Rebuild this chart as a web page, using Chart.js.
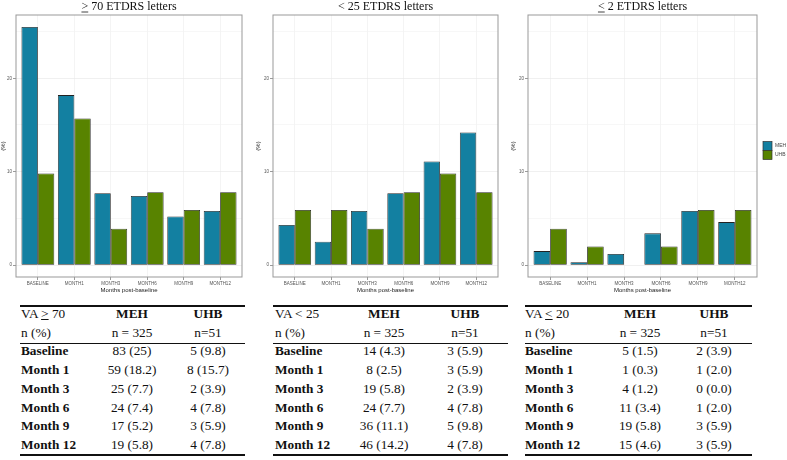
<!DOCTYPE html>
<html>
<head>
<meta charset="utf-8">
<script src="https://cdn.jsdelivr.net/npm/chart.js@4"></script>
<style>
  body { margin: 0; background: #fff; width: 787px; height: 460px; position: relative; overflow: hidden; font-family: "Liberation Serif", "Times New Roman", serif; }
  canvas { position: absolute; top: 0; }
  .t { position: absolute; height: 18px; line-height: 18px; font-size: 13.3px; color: #111; white-space: nowrap; }
  .c { width: 120px; text-align: center; }
  .b { font-weight: bold; }
  .ln { position: absolute; background: #111; }
</style>
</head>
<body>
<canvas id="c70" width="255" height="295" style="left:0px"></canvas>
<canvas id="c25" width="255" height="295" style="left:255px"></canvas>
<canvas id="c2" width="277" height="295" style="left:510px"></canvas>
<div id="tables"></div>
<script>
// categories
const months = ['BASELINE', 'MONTH1', 'MONTH3', 'MONTH6', 'MONTH9', 'MONTH12'];
const rowLabels = ['Baseline', 'Month 1', 'Month 3', 'Month 6', 'Month 9', 'Month 12'];
const yTicks = [0, 5, 10, 15, 20, 25];

// bar heights (%)
const meh70 = [25.5, 18.2, 7.7, 7.4, 5.2, 5.8];
const uhb70 = [9.8, 15.7, 3.9, 7.8, 5.9, 7.8];
const meh25 = [4.3, 2.5, 5.8, 7.7, 11.1, 14.2];
const uhb25 = [5.9, 5.9, 3.9, 7.8, 9.8, 7.8];
const meh2 = [1.5, 0.3, 1.2, 3.4, 5.8, 4.6];
const uhb2 = [3.9, 2.0, 0.0, 2.0, 5.9, 5.9];

// table cells
const mehText70 = ['83 (25)', '59 (18.2)', '25 (7.7)', '24 (7.4)', '17 (5.2)', '19 (5.8)'];
const uhbText70 = ['5 (9.8)', '8 (15.7)', '2 (3.9)', '4 (7.8)', '3 (5.9)', '4 (7.8)'];
const mehText25 = ['14 (4.3)', '8 (2.5)', '19 (5.8)', '24 (7.7)', '36 (11.1)', '46 (14.2)'];
const uhbText25 = ['3 (5.9)', '3 (5.9)', '2 (3.9)', '4 (7.8)', '5 (9.8)', '4 (7.8)'];
const mehText20 = ['5 (1.5)', '1 (0.3)', '4 (1.2)', '11 (3.4)', '19 (5.8)', '15 (4.6)'];
const uhbText20 = ['2 (3.9)', '1 (2.0)', '0 (0.0)', '1 (2.0)', '3 (5.9)', '3 (5.9)'];

const MEH_COL = '#1380A1';
const UHB_COL = '#588300';

// panel title, frame and legend drawn on top of the chart
const panelDeco = {
  id: 'panelDeco',
  afterDraw(chart, args, opts) {
    const ctx = chart.ctx;
    const a = chart.chartArea;
    ctx.save();
    ctx.strokeStyle = '#999';
    ctx.lineWidth = 1;
    ctx.strokeRect(a.left, a.top, a.right - a.left, a.bottom - a.top);

    // title with underlined comparison sign
    ctx.font = '12px "Liberation Serif"';
    ctx.fillStyle = '#111';
    ctx.textBaseline = 'alphabetic';
    ctx.textAlign = 'left';
    const full = opts.sym + ' ' + opts.title;
    const w = ctx.measureText(full).width;
    const x0 = (a.left + a.right) / 2 - w / 2;
    ctx.fillText(full, x0, 9.5);
    if (opts.underline) {
      const sw = ctx.measureText(opts.sym).width;
      ctx.strokeStyle = '#111';
      ctx.lineWidth = 0.8;
      ctx.beginPath();
      ctx.moveTo(x0, 12);
      ctx.lineTo(x0 + sw, 12);
      ctx.stroke();
    }

    if (opts.legend) {
      const lx = a.right + 6;
      const items = [['MEH', MEH_COL], ['UHB', UHB_COL]];
      items.forEach((it, i) => {
        const y = 141.5 + i * 9;
        ctx.fillStyle = it[1];
        ctx.fillRect(lx, y, 9, 9);
        ctx.strokeStyle = '#333';
        ctx.lineWidth = 0.7;
        ctx.strokeRect(lx, y, 9, 9);
        ctx.fillStyle = '#444';
        ctx.font = '5px "Liberation Sans"';
        ctx.textBaseline = 'middle';
        ctx.fillText(it[0], lx + 12, y + 4.5);
      });
    }
    ctx.restore();
  }
};

function makePanel(id, yWidth, padRight, sym, underline, title, meh, uhb, legend) {
  new Chart(document.getElementById(id).getContext('2d'), {
    type: 'bar',
    data: {
      datasets: [
        { label: 'MEH', data: meh.map((v, i) => ({ x: i, y: v })), backgroundColor: MEH_COL },
        { label: 'UHB', data: uhb.map((v, i) => ({ x: i, y: v })), backgroundColor: UHB_COL }
      ]
    },
    options: {
      responsive: false,
      animation: false,
      layout: { padding: { top: 15, right: padRight, left: 0, bottom: 0 } },
      datasets: {
        bar: {
          categoryPercentage: 0.9,
          barPercentage: 1,
          borderColor: '#222',
          borderWidth: 0.8,
          borderSkipped: false
        }
      },
      plugins: {
        legend: { display: false },
        tooltip: { enabled: false },
        panelDeco: { sym: sym, underline: underline, title: title, legend: legend }
      },
      scales: {
        x: {
          type: 'linear',
          min: -0.6,
          max: 5.6,
          offset: false,
          afterBuildTicks: s => { s.ticks = months.map((m, i) => ({ value: i })); },
          afterFit: s => { s.height = 18; },
          ticks: {
            autoSkip: false,
            maxRotation: 0,
            padding: 1,
            color: '#555',
            font: { size: 4.5, family: 'Liberation Sans' },
            callback: v => months[v]
          },
          grid: { offset: false, color: '#ececec', lineWidth: 0.6, tickLength: 3, tickColor: '#555' },
          border: { display: false },
          title: {
            display: true,
            text: 'Months post-baseline',
            color: '#222',
            font: { size: 6, family: 'Liberation Sans' },
            padding: { top: 0, bottom: 1 }
          }
        },
        y: {
          min: -1.275,
          max: 26.775,
          afterBuildTicks: s => { s.ticks = yTicks.map(v => ({ value: v })); },
          afterFit: s => { s.width = yWidth; },
          ticks: {
            padding: 1,
            color: '#555',
            font: { size: 4.5, family: 'Liberation Sans' },
            callback: v => (v % 10 === 0 ? v : '')
          },
          grid: {
            color: c => (c.tick && c.tick.value % 10 === 0 ? '#e6e6e6' : '#f2f2f2'),
            lineWidth: 0.6,
            tickLength: 3,
            tickColor: c => (c.tick && c.tick.value % 10 === 0 ? '#555' : 'rgba(0,0,0,0)')
          },
          border: { display: false },
          title: {
            display: true,
            text: '(%)',
            color: '#222',
            font: { size: 6, family: 'Liberation Sans' },
            padding: 0
          }
        }
      }
    },
    plugins: [panelDeco]
  });
}

makePanel('c70', 16, 13, '>', true, '70 ETDRS letters', meh70, uhb70, false);
makePanel('c25', 18, 12, '<', false, '25 ETDRS letters', meh25, uhb25, false);
makePanel('c2', 18, 30, '<', true, '2 ETDRS letters', meh2, uhb2, true);

// tables under each panel
const host = document.getElementById('tables');
function cell(html, x, cy, cls) {
  const d = document.createElement('div');
  d.className = 't ' + (cls || '');
  d.innerHTML = html;
  d.style.top = (cy - 9) + 'px';
  d.style.left = (cls && cls.indexOf('c') >= 0 ? x - 60 : x) + 'px';
  host.appendChild(d);
}
function line(x1, x2, y, h) {
  const d = document.createElement('div');
  d.className = 'ln';
  d.style.left = x1 + 'px';
  d.style.width = (x2 - x1) + 'px';
  d.style.top = y + 'px';
  d.style.height = h + 'px';
  host.appendChild(d);
}
function makeTable(x1, x2, labelX, mehX, uhbX, head, mehTexts, uhbTexts) {
  const rowY = i => 314 + i * 18.7;
  line(x1, x2, 305, 2.3);
  line(x1, x2, 342.6, 1);
  line(x1, x2, 453.8, 2.3);
  cell(head, labelX, rowY(0));
  cell('MEH', mehX, rowY(0), 'c b');
  cell('UHB', uhbX, rowY(0), 'c b');
  cell('n (%)', labelX, rowY(1));
  cell('n = 325', mehX, rowY(1), 'c');
  cell('n=51', uhbX, rowY(1), 'c');
  rowLabels.forEach((r, i) => {
    cell(r, labelX, rowY(i + 2), 'b');
    cell(mehTexts[i], mehX, rowY(i + 2), 'c');
    cell(uhbTexts[i], uhbX, rowY(i + 2), 'c');
  });
}
makeTable(20, 245, 21, 132, 208, 'VA <u>&gt;</u> 70', mehText70, uhbText70);
makeTable(273, 508, 275, 384, 465, 'VA &lt; 25', mehText25, uhbText25);
makeTable(525, 752, 525, 640, 714, 'VA <u>&lt;</u> 20', mehText20, uhbText20);
</script>
</body>
</html>
